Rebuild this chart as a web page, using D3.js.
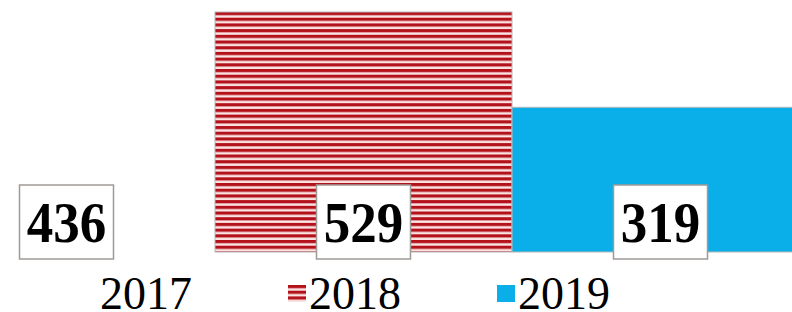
<!DOCTYPE html>
<html>
<head>
<meta charset="utf-8">
<script src="https://cdn.jsdelivr.net/npm/d3@7"></script>
<style>
  body { margin: 0; background: #fff; }
  svg { display: block; }
</style>
</head>
<body>
<svg id="chart" width="792" height="312"></svg>
<script>
const years = ['2017', '2018', '2019'];
const values = [436, 529, 319];
const fills = ['#ffffff', 'url(#stripes)', '#0aaee8'];

let svg = d3.select('#chart');

// horizontal stripe pattern for 2018
let defs = svg.append('defs');
function stripes(id, y0) {
  let p = defs.append('pattern')
    .attr('id', id)
    .attr('patternUnits', 'userSpaceOnUse')
    .attr('width', 10)
    .attr('height', 5.7)
    .attr('y', y0);
  p.append('rect').attr('width', 10).attr('height', 5.7).attr('fill', '#fbe3e3');
  p.append('rect').attr('width', 10).attr('height', 3.2).attr('fill', '#b3121b');
}
stripes('stripes', 12);
stripes('legstripes', 285);

let x = d3.scaleBand().domain(years).range([-82, 809]).padding(0);
let y = d3.scaleLinear().domain([0, 529]).range([252, 12]);

svg.selectAll('rect.bar')
  .data(years)
  .join('rect')
  .attr('class', 'bar')
  .attr('x', d => x(d))
  .attr('y', (d, i) => y(values[i]))
  .attr('width', x.bandwidth())
  .attr('height', (d, i) => y(0) - y(values[i]))
  .attr('fill', (d, i) => fills[i])
  .attr('stroke', (d, i) => i == 0 ? 'none' : '#b8b8b8')
  .attr('stroke-width', 1);

// value labels in boxes
let lbl = svg.selectAll('g.lbl')
  .data(years)
  .join('g')
  .attr('class', 'lbl')
  .attr('transform', d => `translate(${x(d) + x.bandwidth() / 2},222)`);

lbl.append('rect')
  .attr('x', -47).attr('y', -37)
  .attr('width', 94).attr('height', 74)
  .attr('fill', '#fff')
  .attr('stroke', '#a09a96')
  .attr('stroke-width', 1.5);

lbl.append('text')
  .attr('text-anchor', 'middle')
  .attr('transform', 'translate(0,20) scale(1,1.08)')
  .style('font-family', '"Liberation Serif", "Times New Roman", serif')
  .style('font-weight', 'bold')
  .style('font-size', '53px')
  .attr('fill', '#000')
  .text((d, i) => values[i]);

// legend
let leg = svg.selectAll('g.leg')
  .data(years)
  .join('g')
  .attr('class', 'leg')
  .attr('transform', (d, i) => `translate(${79 + i * 209},0)`);

leg.append('rect')
  .attr('x', 0).attr('y', 285)
  .attr('width', 18).attr('height', 17)
  .attr('fill', (d, i) => i == 1 ? 'url(#legstripes)' : fills[i]);

leg.append('text')
  .attr('x', 21)
  .attr('y', 309)
  .style('font-family', '"Liberation Serif", "Times New Roman", serif')
  .style('font-size', '46px')
  .attr('fill', '#000')
  .text(d => d);
</script>
</body>
</html>
